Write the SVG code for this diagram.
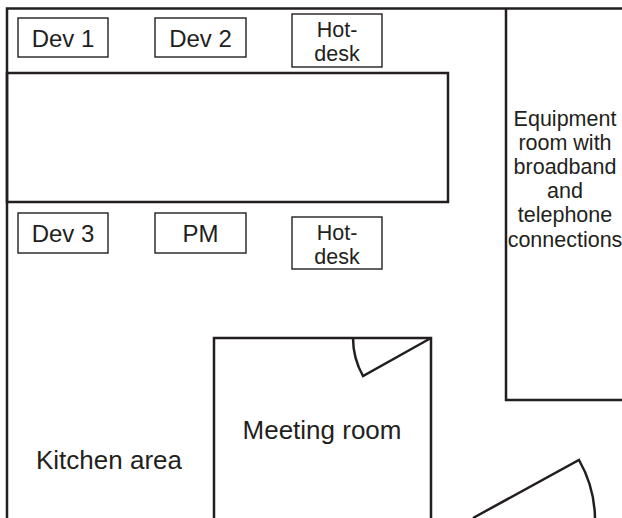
<svg xmlns="http://www.w3.org/2000/svg" width="622" height="518" viewBox="0 0 622 518">
<style>
.wall{fill:none;stroke:#231f20;stroke-width:2.5}
.desk{fill:#fff;stroke:#231f20;stroke-width:1.4}
text{font-family:"Liberation Sans",Arial,Helvetica,sans-serif;fill:#231f20;text-anchor:middle}
.d{font-size:24px}
.h{font-size:21.5px}
.e{font-size:21.5px}
.r{font-size:26px}
</style>
<rect width="622" height="518" fill="#fff"/>
<g id="walls">
<path class="wall" d="M7,518 V8.5 H622"/>
<rect id="table" class="wall" x="7" y="73" width="441" height="129"/>
</g>
<g id="equipment-room">
<path class="wall" d="M506,8.5 V400 H622"/>
<text class="e"><tspan x="565" y="126">Equipment</tspan><tspan x="565" y="150">room with</tspan><tspan x="565" y="174">broadband</tspan><tspan x="565" y="198">and</tspan><tspan x="565" y="222">telephone</tspan><tspan x="565" y="247">connections</tspan></text>
</g>
<g id="dev1"><rect class="desk" x="18" y="18" width="90" height="39"/><text class="d" x="63" y="47">Dev 1</text></g>
<g id="dev2"><rect class="desk" x="155" y="18" width="91" height="39"/><text class="d" x="200.5" y="47">Dev 2</text></g>
<g id="hotdesk1"><rect class="desk" x="292" y="14" width="90" height="53"/><text class="h"><tspan x="337" y="37">Hot-</tspan><tspan x="337" y="61">desk</tspan></text></g>
<g id="dev3"><rect class="desk" x="18" y="213" width="90" height="40"/><text class="d" x="63" y="242">Dev 3</text></g>
<g id="pm"><rect class="desk" x="155" y="213" width="91" height="40"/><text class="d" x="200.5" y="242">PM</text></g>
<g id="hotdesk2"><rect class="desk" x="292" y="217" width="90" height="52"/><text class="h"><tspan x="337" y="240">Hot-</tspan><tspan x="337" y="264">desk</tspan></text></g>
<g id="meeting-room">
<path class="wall" d="M214,518 V338 H431 V518"/>
<path class="wall" d="M353,338 A78,78 0 0 0 363,376 L431,338"/>
<text class="r" x="322" y="439">Meeting room</text>
</g>
<g id="kitchen"><text class="r" x="109" y="469">Kitchen area</text></g>
<g id="entrance-door"><path class="wall" d="M473,518 L579,460 A121,121 0 0 1 595,518"/></g>
</svg>
